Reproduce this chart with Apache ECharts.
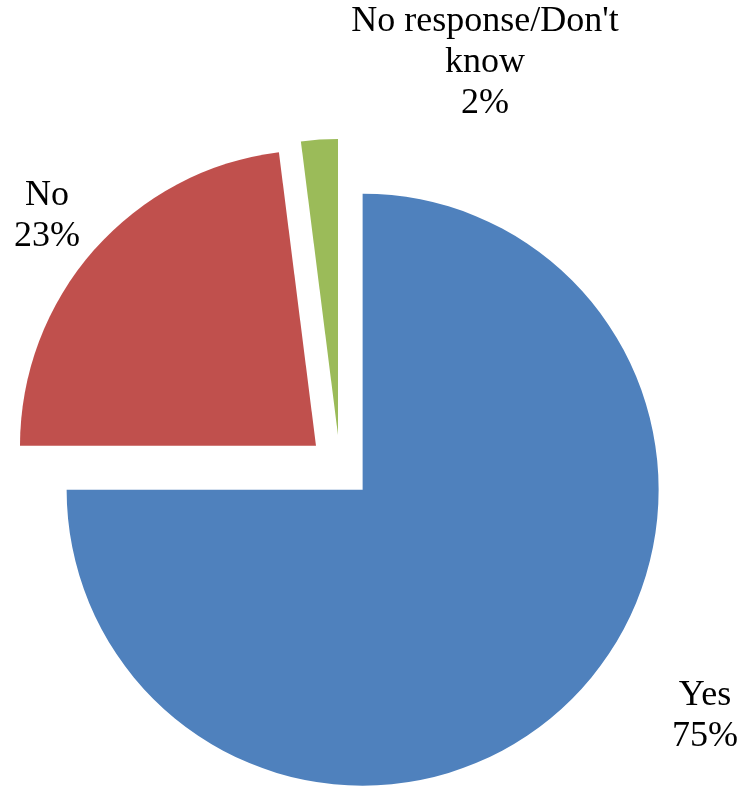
<!DOCTYPE html>
<html>
<head>
<meta charset="utf-8">
<script src="https://cdn.jsdelivr.net/npm/echarts@6/dist/echarts.min.js"></script>
<style>
html,body{margin:0;padding:0;background:#fff;}
#chart{width:739px;height:787px;}
</style>
</head>
<body>
<div id="chart"></div>
<script>
var categories = ['Yes', 'No', "No response/Don't know"];
var labelNames = ['Yes', 'No', "No response/Don't\nknow"];
var values = [75, 23, 2];
var colors = ['#4F81BD', '#C0504D', '#9BBB59'];
var labelSpots = [[705, 716], [47, 216], [485, 63]];

var chart = echarts.init(document.getElementById('chart'), null, {renderer: 'canvas'});
var data = categories.map(function (c, i) {
  return {name: c, value: values[i], selected: true, itemStyle: {color: colors[i]}};
});
var labels = categories.map(function (c, i) {
  return {
    type: 'text',
    x: labelSpots[i][0],
    y: labelSpots[i][1],
    style: {
      text: labelNames[i] + '\n' + values[i] + '%',
      fill: '#000',
      font: '36px "Liberation Serif", "DejaVu Serif", serif',
      lineHeight: 41,
      align: 'center',
      verticalAlign: 'middle'
    }
  };
});
chart.setOption({
  animation: false,
  graphic: labels,
  series: [{
    type: 'pie',
    center: [340, 467],
    radius: [0, 296],
    startAngle: 90,
    clockwise: true,
    selectedMode: 'multiple',
    selectedOffset: 32,
    emphasis: {disabled: true},
    data: data,
    label: {show: false},
    labelLine: {show: false}
  }]
});
</script>
</body>
</html>
